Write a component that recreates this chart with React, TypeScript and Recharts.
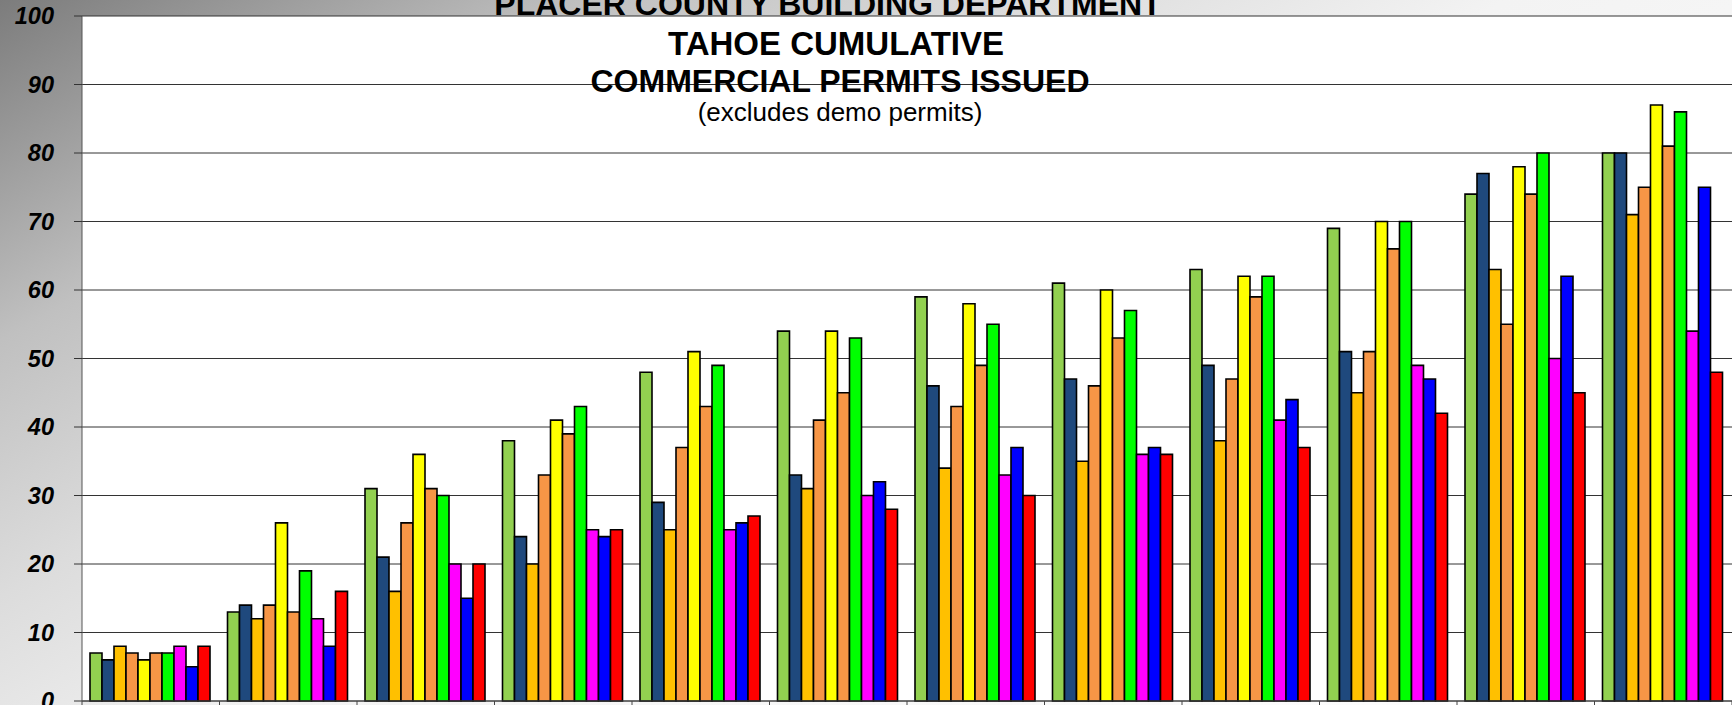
import React from "react";
import { BarChart, Bar, XAxis, YAxis, CartesianGrid } from "recharts";

const months = ["JAN", "FEB", "MAR", "APR", "MAY", "JUN", "JUL", "AUG", "SEP", "OCT", "NOV", "DEC"];

const series1 = [7, 13, 31, 38, 48, 54, 59, 61, 63, 69, 74, 80];
const series2 = [6, 14, 21, 24, 29, 33, 46, 47, 49, 51, 77, 80];
const series3 = [8, 12, 16, 20, 25, 31, 34, 35, 38, 45, 63, 71];
const series4 = [7, 14, 26, 33, 37, 41, 43, 46, 47, 51, 55, 75];
const series5 = [6, 26, 36, 41, 51, 54, 58, 60, 62, 70, 78, 87];
const series6 = [7, 13, 31, 39, 43, 45, 49, 53, 59, 66, 74, 81];
const series7 = [7, 19, 30, 43, 49, 53, 55, 57, 62, 70, 80, 86];
const series8 = [8, 12, 20, 25, 25, 30, 33, 36, 41, 49, 50, 54];
const series9 = [5, 8, 15, 24, 26, 32, 37, 37, 44, 47, 62, 75];
const series10 = [8, 16, 20, 25, 27, 28, 30, 36, 37, 42, 45, 48];

const yTicks = [0, 10, 20, 30, 40, 50, 60, 70, 80, 90, 100];

const titleLines = [
  "PLACER COUNTY BUILDING DEPARTMENT",
  "TAHOE CUMULATIVE",
  "COMMERCIAL PERMITS ISSUED",
];
const subtitle = "(excludes demo permits)";

const allSeries = [series1, series2, series3, series4, series5, series6, series7, series8, series9, series10];
const seriesColors = ["#92D050", "#1F497D", "#FFC000", "#F79646", "#FFFF00", "#F79646", "#00FF00", "#FF00FF", "#0000FF", "#FF0000"];
const seriesKeys = allSeries.map((_, i) => `s${i + 1}`);

const data = months.map((m, mi) => {
  const row: Record<string, any> = { month: m };
  allSeries.forEach((s, si) => {
    row[seriesKeys[si]] = s[mi];
  });
  return row;
});

const BoundaryTick = (props: any) => {
  const { x, y, payload, index, visibleTicksCount } = props;
  const off = payload && payload.offset ? payload.offset : 0;
  return (
    <g>
      <line x1={x - off} x2={x - off} y1={y} y2={y + 8} stroke="#444" strokeWidth={1} />
      {index === visibleTicksCount - 1 ? (
        <line x1={x + off} x2={x + off} y1={y} y2={y + 8} stroke="#444" strokeWidth={1} />
      ) : null}
    </g>
  );
};

export default function App() {
  return (
    <div
      style={{
        position: "relative",
        width: 1732,
        height: 705,
        overflow: "hidden",
        background:
          "linear-gradient(150deg, #7c7c7c 0%, #c0c0c0 20%, #dcdcdc 35%, #f3f3f3 51%, #ffffff 100%)",
      }}
    >
      <style>{`body{margin:0;}`}</style>
      <BarChart
        width={1732}
        height={705}
        data={data}
        margin={{ top: 16, right: 0, bottom: 0, left: 0 }}
        barCategoryGap={8}
        barGap={0}
      >
        <CartesianGrid vertical={false} stroke="#333" fill="#ffffff" fillOpacity={1} />
        <XAxis
          dataKey="month"
          height={4}
          tickSize={0}
          tickMargin={0}
          tickLine={false}
          tick={<BoundaryTick />}
          axisLine={{ stroke: "#444" }}
          interval={0}
        />
        <YAxis
          width={82}
          domain={[0, 100]}
          ticks={yTicks}
          interval={0}
          tickSize={8}
          tickMargin={20}
          axisLine={{ stroke: "#555" }}
          tickLine={{ stroke: "#333" }}
          tick={{
            fontFamily: "Liberation Sans, Arial, sans-serif",
            fontWeight: "bold",
            fontStyle: "italic",
            fontSize: 23.5,
            fill: "#000",
          }}
        />
        {seriesKeys.map((k, i) => (
          <Bar
            key={k}
            dataKey={k}
            name={`Series ${i + 1}`}
            fill={seriesColors[i]}
            stroke="#000"
            strokeWidth={1.6}
            isAnimationActive={false}
          />
        ))}
      </BarChart>
      <svg
        width={1732}
        height={705}
        style={{ position: "absolute", left: 0, top: 0, pointerEvents: "none" }}
      >
        <g fontFamily="Liberation Sans, Arial, sans-serif" fill="#000" textAnchor="middle">
          <text x={828} y={15} fontSize={32} fontWeight="bold">{titleLines[0]}</text>
          <text x={836} y={55} fontSize={33} fontWeight="bold">{titleLines[1]}</text>
          <text x={840} y={92} fontSize={32} fontWeight="bold">{titleLines[2]}</text>
          <text x={840} y={121} fontSize={26}>{subtitle}</text>
        </g>
      </svg>
    </div>
  );
}
